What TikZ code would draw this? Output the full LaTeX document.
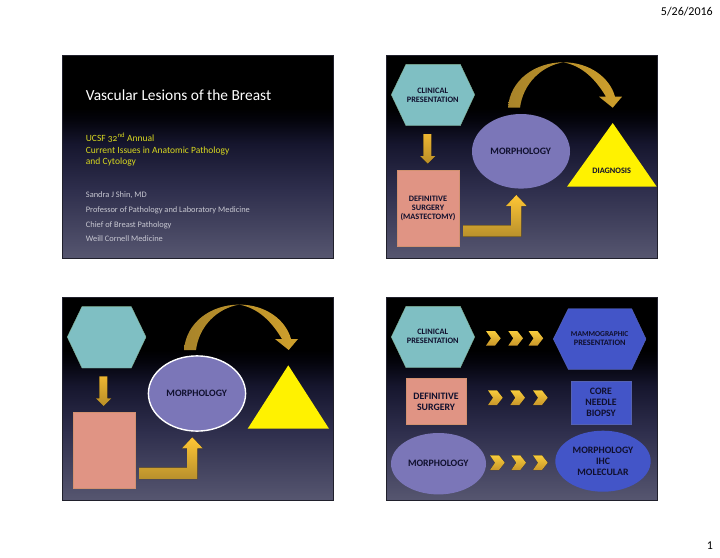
\documentclass[tikz,border=0pt]{standalone}
\usepackage{fontspec}
\setmainfont{Carlito}
\newfontfamily\oldnum[Numbers=OldStyle]{Carlito}
\definecolor{hexc}{HTML}{7FBFC3}
\definecolor{rectc}{HTML}{E09484}
\definecolor{ellc}{HTML}{7B76B8}
\definecolor{bluec}{HTML}{4355C8}
\definecolor{ink}{HTML}{10102E}
\definecolor{yel}{HTML}{D8D820}
\definecolor{gry}{HTML}{C8C8D2}
\definecolor{edgec}{HTML}{20202C}
\definecolor{bgA}{HTML}{565670}
\definecolor{bgB}{HTML}{2E2E4C}
\definecolor{bgC}{HTML}{16162E}
\definecolor{bgD}{HTML}{04040C}
\definecolor{goldA}{HTML}{FFC635}
\definecolor{goldB}{HTML}{B8902C}
\definecolor{goldC}{HTML}{A8842A}
\definecolor{goldD}{HTML}{F0BE3A}
\definecolor{goldE}{HTML}{CFA02C}
\definecolor{goldF}{HTML}{F8CC3C}
\definecolor{goldG}{HTML}{C8962A}
\definecolor{goldH}{HTML}{EDB632}
\pgfdeclareverticalshading{slidebg}{100bp}{
 color(0bp)=(bgA);
 color(25bp)=(bgA);
 color(42bp)=(bgB);
 color(53bp)=(bgC);
 color(59bp)=(bgD);
 color(62bp)=(black);
 color(75bp)=(black);
 color(100bp)=(black)}
\tikzset{
 x=1pt,y=-1pt,
 slide/.style={shading=slidebg,draw=edgec,line width=0.6pt},
 label/.style={font=\bfseries,text=ink,align=center,inner sep=0pt},
 small/.style={label,font=\bfseries\fontsize{8.3}{9}\selectfont},
 mid/.style={label,font=\bfseries\fontsize{9.8}{11}\selectfont},
 big/.style={label,font=\bfseries\fontsize{9.8}{10.8}\selectfont},
 hexa/.style={fill=hexc,draw=hexc!75!olive,line width=0.4pt},
 blueshape/.style={fill=bluec,draw=bluec!70!gray,line width=0.4pt},
 recta/.style={fill=rectc,draw=rectc!85!olive,line width=0.4pt},
 ell/.style={fill=ellc},
 tri/.style={fill=yellow},
 gold/.style={top color=goldH,bottom color=goldH!78!black,draw=none},
 goldup/.style={top color=goldA,bottom color=goldB,draw=none},
 goldarc/.style={left color=goldC,middle color=goldD,right color=goldE,draw=none},
 chev/.style={top color=goldF,bottom color=goldG,draw=none},
 txt/.style={anchor=base west,inner sep=0pt},
 hdr/.style={inner sep=0pt,text=black,font=\fontsize{12}{14}\selectfont},
}
\newcommand{\chevron}[2]{\fill[chev] (#1,#2-7.3) -- (#1+9,#2-7.3) -- (#1+14.7,#2) -- (#1+9,#2+7.3) -- (#1,#2+7.3) -- (#1+5,#2) -- cycle;}
\newcommand{\arcarrow}{\fill[goldarc] (508,107.7) .. controls (510,80) and (535,62.3) .. (563.3,62.3) .. controls (590,62.3) and (610,78) .. (615,96.7) -- (622,96.7) -- (612.7,107.7) -- (599,96.7) -- (606,96.7) .. controls (596,80) and (583,66) .. (563.3,62.3) .. controls (541,66) and (523,84) .. (520,107.7) -- cycle;}
\newcommand{\downarrowshape}{\fill[gold] (423.3,134) -- (431.3,134) -- (431.3,156) -- (435.3,156) -- (427.7,163.7) -- (420,156) -- (423.3,156) -- cycle;}
\newcommand{\larrow}{\fill[goldup] (463,225.3) -- (511,225.3) -- (511,206) -- (506,206) -- (516.3,195) -- (526.7,206) -- (521.3,206) -- (521.3,236.7) -- (463,236.7) -- cycle;}
\begin{document}
\begin{tikzpicture}
\useasboundingbox (0,0) rectangle (720,557);
\fill[white] (0,0) rectangle (720,557);
\node[hdr,anchor=east] (date) at (713,11.7) {5/26/2016};
\node[hdr] (page) at (710,546) {1};

% slide backgrounds
\path[slide] (62,55) rectangle (333.7,258);
\path[slide] (386,55) rectangle (657.5,258);
\path[slide] (62,297) rectangle (333.7,500);
\path[slide] (386,297) rectangle (657.5,500);

% slide 1
\node[txt,text=white,font=\fontsize{15.4}{18}\selectfont] (title) at (85.7,100) {Vascular Lesions of the Breast};
\begin{scope}[nodes={txt,text=yel,font=\fontsize{9.5}{12}\selectfont}]
\node (y1) at (85.7,141.8) {UCSF {\oldnum 32}\textsuperscript{nd} Annual};
\node (y2) at (85.7,153.4) {Current Issues in Anatomic Pathology};
\node (y3) at (85.7,164.8) {and Cytology};
\end{scope}
\begin{scope}[nodes={txt,text=gry,font=\fontsize{8.4}{10}\selectfont}]
\node (g1) at (85.7,197.6) {Sandra J Shin, MD};
\node (g2) at (85.7,212.6) {Professor of Pathology and Laboratory Medicine};
\node (g3) at (85.7,227.3) {Chief of Breast Pathology};
\node (g4) at (85.7,241.9) {Weill Cornell Medicine};
\end{scope}

% slide 2
\arcarrow
\downarrowshape
\larrow
\fill[hexa,draw=hexc!75!olive] (391.3,94.7) -- (406,64.3) -- (460.3,64.3) -- (474.7,94.7) -- (460.3,125.7) -- (406,125.7) -- cycle;
\node[small] (c2) at (432.7,95.2) {CLINICAL\\PRESENTATION};
\filldraw[recta] (397.3,170.3) rectangle (459,245.7);
\node[small] (d2) at (428,208) {DEFINITIVE\\SURGERY\\(MASTECTOMY)};
\fill[ell] (521,151.3) ellipse [x radius=49,y radius=37.3];
\node[mid] (m2) at (520.7,151.7) {MORPHOLOGY};
\fill[tri] (612.7,123) -- (656.7,186.7) -- (567,186.7) -- cycle;
\node[small] (t2) at (611.7,170.7) {DIAGNOSIS};

% slide 3
\begin{scope}[shift={(-324,242.3)}]
\arcarrow
\downarrowshape
\larrow
\fill[hexa,draw=hexc!75!olive] (391.3,94.7) -- (406,64.3) -- (455.3,64.3) -- (470,94.7) -- (455.3,125.7) -- (406,125.7) -- cycle;
\filldraw[recta] (397.3,170.3) rectangle (459,245.7);
\end{scope}
\filldraw[ell,draw=white,line width=1.4pt] (197,393.5) ellipse [x radius=48.6,y radius=37.6];
\node[mid] (m3) at (196.7,393.3) {MORPHOLOGY};
\fill[tri] (288.3,365.3) -- (329,428.7) -- (247.7,428.7) -- cycle;

% slide 4
\fill[hexa,draw=hexc!75!olive] (391.3,337) -- (406,306.3) -- (460.3,306.3) -- (474.7,337) -- (460.3,367.7) -- (406,367.7) -- cycle;
\node[small] (c4) at (432.7,336.8) {CLINICAL\\PRESENTATION};
\filldraw[blueshape] (553.3,339) -- (568.3,308.7) -- (631.7,308.7) -- (646,339) -- (631.7,369.3) -- (568.3,369.3) -- cycle;
\node[small] (mp4) at (599.7,339) {{\fontsize{7.5}{9}\selectfont MAMMOGRAPHIC}\\PRESENTATION};
\filldraw[recta] (406.3,378.3) rectangle (465.7,424.3);
\node[big] (d4) at (436,401.5) {DEFINITIVE\\SURGERY};
\filldraw[blueshape] (571.3,381.3) rectangle (630.7,424.3);
\node[big] (b4) at (601,402.6) {CORE\\NEEDLE\\BIOPSY};
\fill[ell] (438.5,463.7) ellipse [x radius=47.5,y radius=30.7];
\node[big] (m4) at (438.3,463.3) {MORPHOLOGY};
\fill[bluec] (603,461.2) ellipse [x radius=47.7,y radius=30.5];
\node[big] (mi4) at (603,461.2) {MORPHOLOGY\\IHC\\MOLECULAR};
\chevron{486}{338.3}\chevron{508.3}{338.3}\chevron{528.5}{338.3}
\chevron{488}{397.7}\chevron{510.3}{397.7}\chevron{533}{397.7}
\chevron{490}{462.7}\chevron{511.3}{462.7}\chevron{533}{462.7}
\end{tikzpicture}
\end{document}
